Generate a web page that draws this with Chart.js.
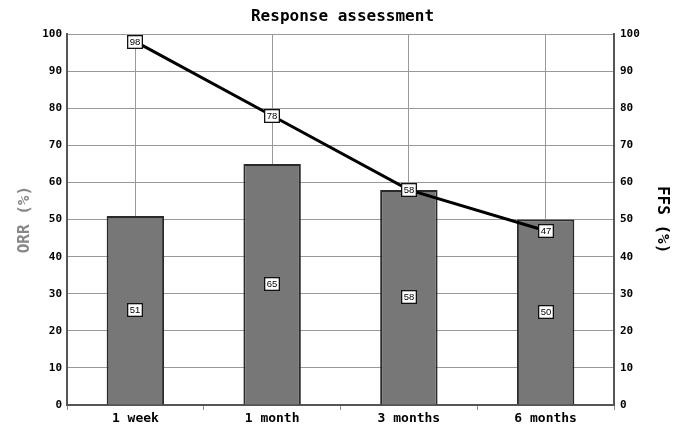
<!DOCTYPE html>
<html>
<head>
<meta charset="utf-8">
<script src="https://cdn.jsdelivr.net/npm/chart.js@4/dist/chart.umd.min.js"></script>
<style>
  html, body { margin: 0; padding: 0; background: #fff; }
  #wrap { width: 685px; height: 433px; }
</style>
</head>
<body>
<div id="wrap"><canvas id="chart" width="685" height="433"></canvas></div>
<script>
const categories = ["1 week", "1 month", "3 months", "6 months"];
const orrValues = [51, 65, 58, 50];
const ffsValues = [98, 78, 58, 47];
const yTicks = [0, 10, 20, 30, 40, 50, 60, 70, 80, 90, 100];

const mono = "'DejaVu Sans Mono', monospace";

// small white boxes with the value, like the original labels
const valueBoxes = {
  id: "valueBoxes",
  afterDatasetsDraw(chart) {
    const ctx = chart.ctx;
    ctx.save();
    ctx.font = "9.5px 'Liberation Sans', Arial, sans-serif";
    ctx.textAlign = "center";
    ctx.textBaseline = "middle";
    const yScale = chart.scales.y;
    const drawBox = (x, y, txt) => {
      const w = 16, h = 14;
      const bx = Math.round(x - w / 2), by = Math.round(y - h / 2);
      ctx.fillStyle = "#fff";
      ctx.fillRect(bx, by, w, h);
      ctx.strokeStyle = "#111";
      ctx.lineWidth = 1.3;
      ctx.strokeRect(bx + 0.65, by + 0.65, w - 1.3, h - 1.3);
      ctx.fillStyle = "#000";
      ctx.fillText(txt, bx + w / 2, by + h / 2 + 0.5);
    };
    chart.getDatasetMeta(1).data.forEach((bar, i) => {
      drawBox(bar.x, yScale.getPixelForValue(orrValues[i] / 2), String(orrValues[i]));
    });
    chart.getDatasetMeta(0).data.forEach((pt, i) => {
      drawBox(pt.x, pt.y, String(ffsValues[i]));
    });
    ctx.restore();
  }
};

new Chart(document.getElementById("chart"), {
  data: {
    labels: categories,
    datasets: [
      {
        type: "line",
        label: "FFS",
        data: ffsValues,
        yAxisID: "y1",
        borderColor: "#000",
        borderWidth: 3,
        pointRadius: 0,
        tension: 0,
        order: 0
      },
      {
        type: "bar",
        label: "ORR",
        data: orrValues,
        yAxisID: "y",
        backgroundColor: "#777777",
        borderColor: "#2a2a2a",
        borderWidth: 2,
        barPercentage: 0.42,
        categoryPercentage: 1,
        order: 1
      }
    ]
  },
  options: {
    responsive: false,
    animation: false,
    layout: { padding: 0 },
    plugins: {
      legend: { display: false },
      tooltip: { enabled: false },
      title: {
        display: true,
        text: "Response assessment",
        color: "#000",
        font: { family: mono, size: 16, weight: "bold" },
        padding: { top: 7, bottom: 8 }
      }
    },
    scales: {
      x: {
        weight: 1,
        offset: true,
        grid: { offset: false, color: "#999", drawTicks: false, lineWidth: 1 },
        border: { display: false },
        ticks: { color: "#000", font: { family: mono, size: 13, weight: "bold" }, padding: 1 },
        afterFit(s) { s.height = 23; }
      },
      x2: {
        type: "category",
        labels: categories,
        position: "bottom",
        weight: 0,
        offset: true,
        grid: { offset: true, drawOnChartArea: false, color: "#888", tickLength: 5 },
        border: { color: "#555", width: 2 },
        ticks: { display: false },
        afterFit(s) { s.height = 5; }
      },
      y: {
        position: "left",
        min: 0, max: 100,
        afterBuildTicks(s) { s.ticks = yTicks.map(v => ({ value: v })); },
        grid: { color: "#999", drawTicks: false },
        border: { color: "#555", width: 2 },
        ticks: { color: "#000", font: { family: mono, size: 11, weight: "bold" }, padding: 5 },
        title: {
          display: true, text: "ORR (%)", color: "#888",
          font: { family: mono, size: 16, weight: "bold" }, padding: { top: 15, bottom: 0 }
        },
        afterFit(s) { s.width = 67; }
      },
      y1: {
        position: "right",
        min: 0, max: 100,
        afterBuildTicks(s) { s.ticks = yTicks.map(v => ({ value: v })); },
        grid: { drawOnChartArea: false, drawTicks: false },
        border: { color: "#555", width: 2 },
        ticks: { color: "#000", font: { family: mono, size: 11, weight: "bold" }, padding: 6 },
        title: {
          display: true, text: "FFS (%)", color: "#000",
          font: { family: mono, size: 16, weight: "bold" }, padding: { top: 13, bottom: 0 }
        },
        afterFit(s) { s.width = 71; }
      }
    }
  },
  plugins: [valueBoxes]
});
</script>
</body>
</html>
